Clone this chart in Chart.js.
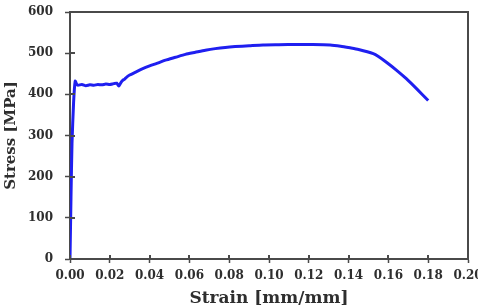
<!DOCTYPE html>
<html>
<head>
<meta charset="utf-8">
<script src="https://cdn.jsdelivr.net/npm/chart.js@4/dist/chart.umd.min.js"></script>
<style>
  html, body { margin: 0; padding: 0; background: #fff; }
  #wrap { width: 478px; height: 308px; }
</style>
</head>
<body>
<div id="wrap"><canvas id="stressChart"></canvas></div>
<script>
// strain [mm/mm] and stress [MPa]
const strain = [
    0.0000, 0.0005, 0.0010, 0.0018, 0.0026, 0.0034, 0.0040, 0.0060, 0.0080, 0.0100,
    0.0120, 0.0140, 0.0160, 0.0180, 0.0200, 0.0220, 0.0235, 0.0245, 0.0255, 0.0265,
    0.0275, 0.0285, 0.0300, 0.0330, 0.0360, 0.0400, 0.0430, 0.0480, 0.0530, 0.0580,
    0.0630, 0.0680, 0.0730, 0.0780, 0.0830, 0.0900, 0.0970, 0.1050, 0.1140, 0.1220,
    0.1307, 0.1360, 0.1407, 0.1450, 0.1524, 0.1550, 0.1590, 0.1640, 0.1690, 0.1745,
    0.1800
];
const stress = [
    0, 150, 280, 380, 432, 424, 422, 424, 421, 423,
    422, 424, 423, 425, 424, 426, 427, 420, 428, 434,
    437, 442, 447, 454, 461, 469, 474, 483, 490, 497,
    502, 507, 511, 514, 516, 518, 520, 520.5, 521, 521,
    520, 517, 513, 509, 499, 492, 478, 459, 438, 412,
    385
];
const xTicks = [0, 0.02, 0.04, 0.06, 0.08, 0.10, 0.12, 0.14, 0.16, 0.18, 0.20];
const yTicks = [0, 100, 200, 300, 400, 500, 600];

const axisColor = '#4a4a4a';
const textColor = '#2e2e2e';
const serif = 'DejaVu Serif';

// top and right sides of the box, plus the inner half of each tick
const boxAndTicks = {
    id: 'boxAndTicks',
    afterDraw(chart) {
        const ctx = chart.ctx;
        const a = chart.chartArea;
        const l = Math.round(a.left), r = Math.round(a.right);
        const t = Math.round(a.top), b = Math.round(a.bottom);
        ctx.save();
        ctx.fillStyle = axisColor;
        ctx.fillRect(l - 1, t - 1, r - l + 2, 2);
        ctx.fillRect(r - 1, t - 1, 2, b - t + 2);
        xTicks.forEach(v => {
            const px = Math.round(chart.scales.x.getPixelForValue(v));
            ctx.fillRect(px - 1, b - 4, 2, 4);
        });
        yTicks.forEach(v => {
            const py = Math.round(chart.scales.y.getPixelForValue(v));
            ctx.fillRect(l, py - 1, 5, 2);
        });
        ctx.restore();
    }
};

const tickGrid = (len) => ({
    display: true,
    drawOnChartArea: false,
    drawTicks: true,
    tickLength: len,
    tickWidth: 1.5,
    color: axisColor
});

new Chart(document.getElementById('stressChart'), {
    type: 'scatter',
    data: {
        datasets: [{
            data: strain.map((s, i) => ({ x: s, y: stress[i] })),
            showLine: true,
            borderColor: '#1f1ff0',
            borderWidth: 3,
            pointRadius: 0,
            tension: 0.2,
            fill: false
        }]
    },
    options: {
        responsive: true,
        maintainAspectRatio: false,
        animation: false,
        layout: { padding: { top: 12, right: 10, left: 0, bottom: 0 } },
        plugins: {
            legend: { display: false },
            tooltip: { enabled: false }
        },
        scales: {
            x: {
                type: 'linear',
                min: 0,
                max: 0.2,
                grid: tickGrid(4),
                border: { display: true, color: axisColor, width: 2 },
                afterBuildTicks: s => { s.ticks = xTicks.map(v => ({ value: v })); },
                afterFit: s => { s.height = 49; s.paddingLeft = 0; s.paddingRight = 0; },
                ticks: {
                    color: textColor,
                    padding: 6,
                    maxRotation: 0,
                    autoSkip: false,
                    font: { family: serif, size: 12, weight: 'bold' },
                    callback: v => v.toFixed(2)
                },
                title: {
                    display: true,
                    text: 'Strain [mm/mm]',
                    color: textColor,
                    padding: { top: 0, bottom: 0 },
                    font: { family: serif, size: 17, weight: 'bold', lineHeight: 1.1 }
                }
            },
            y: {
                min: 0,
                max: 600,
                grid: tickGrid(5),
                border: { display: true, color: axisColor, width: 2 },
                afterBuildTicks: s => { s.ticks = yTicks.map(v => ({ value: v })); },
                afterFit: s => { s.width = 70; s.paddingTop = 0; s.paddingBottom = 0; },
                ticks: {
                    color: textColor,
                    padding: 12,
                    font: { family: serif, size: 12, weight: 'bold' }
                },
                title: {
                    display: true,
                    text: 'Stress [MPa]',
                    color: textColor,
                    padding: { top: 2, bottom: 0 },
                    font: { family: serif, size: 15, weight: 'bold' }
                }
            }
        }
    },
    plugins: [boxAndTicks]
});
</script>
</body>
</html>
